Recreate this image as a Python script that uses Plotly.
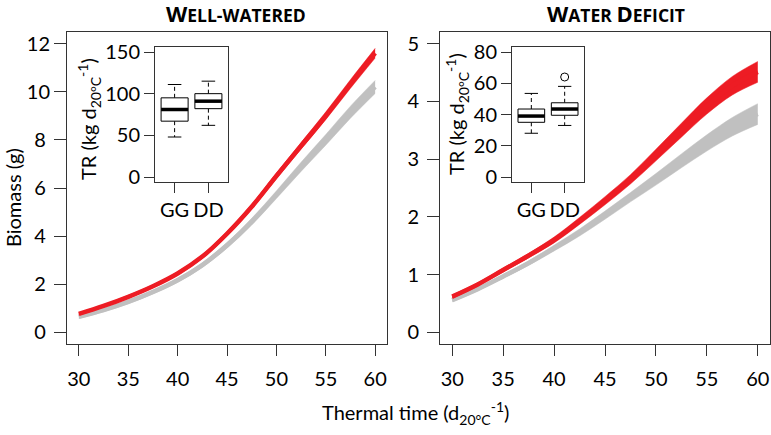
import plotly.graph_objects as go

# ---------------- data ----------------
thermal_time = [30, 32.5, 35, 37.5, 40, 42.5, 45, 47.5, 50, 52.5, 55, 57.5, 60]

# Well-watered biomass (g): centre of band and half-width of band
ww_red = [0.77, 1.10, 1.48, 1.92, 2.45, 3.15, 4.10, 5.22, 6.50, 7.75, 9.00, 10.32, 11.60]
ww_red_hw = [0.05, 0.05, 0.06, 0.06, 0.07, 0.08, 0.09, 0.10, 0.12, 0.14, 0.16, 0.18, 0.20]
ww_grey = [0.65, 0.93, 1.27, 1.68, 2.17, 2.80, 3.62, 4.60, 5.72, 6.88, 8.00, 9.15, 10.20]
ww_grey_hw = [0.07, 0.07, 0.08, 0.08, 0.09, 0.10, 0.12, 0.14, 0.16, 0.19, 0.22, 0.25, 0.27]

# Water deficit biomass (g)
wd_red = [0.62, 0.83, 1.08, 1.33, 1.60, 1.93, 2.28, 2.65, 3.07, 3.50, 3.92, 4.27, 4.51]
wd_red_hw = [0.03, 0.03, 0.035, 0.04, 0.05, 0.06, 0.07, 0.08, 0.10, 0.12, 0.14, 0.16, 0.18]
wd_grey = [0.56, 0.75, 0.97, 1.20, 1.46, 1.73, 2.03, 2.34, 2.65, 2.97, 3.28, 3.56, 3.78]
wd_grey_hw = [0.03, 0.03, 0.035, 0.04, 0.05, 0.06, 0.07, 0.08, 0.10, 0.12, 0.14, 0.16, 0.18]

# Inset boxplots: TR (kg d20°C-1)
genotypes = ["GG", "DD"]
ww_tr_low = [48, 62]
ww_tr_q1 = [67, 82]
ww_tr_med = [81, 91]
ww_tr_q3 = [95, 100]
ww_tr_high = [111, 115]

wd_tr_low = [28, 33]
wd_tr_q1 = [35, 39.5]
wd_tr_med = [39, 43.5]
wd_tr_q3 = [43.5, 47.5]
wd_tr_high = [53.5, 58]
wd_tr_outlier_x = ["DD"]
wd_tr_outlier = [64]

x_ticks = [30, 35, 40, 45, 50, 55, 60]
ww_y_ticks = [0, 2, 4, 6, 8, 10, 12]
wd_y_ticks = [0, 1, 2, 3, 4, 5]
ww_inset_ticks = [0, 50, 100, 150]
wd_inset_ticks = [0, 20, 40, 60, 80]

RED = "#ED1C24"
GREY = "#C0C0C0"
FONT = "Lato"
TITLE_FONT = "Open Sans"

fig = go.Figure()


def add_band(x, centre, hw, color, xa, ya):
    upper = [c + h for c, h in zip(centre, hw)]
    lower = [c - h for c, h in zip(centre, hw)]
    fig.add_trace(go.Scatter(x=x, y=upper, mode="lines", line=dict(color=color, width=0.5, shape="spline"),
                             xaxis=xa, yaxis=ya, showlegend=False, hoverinfo="skip"))
    fig.add_trace(go.Scatter(x=x, y=lower, mode="lines", line=dict(color=color, width=0.5, shape="spline"),
                             fill="tonexty", fillcolor=color,
                             xaxis=xa, yaxis=ya, showlegend=False, hoverinfo="skip"))
    fig.add_trace(go.Scatter(x=x, y=centre, mode="lines", line=dict(color=color, width=4.5, shape="spline"),
                             xaxis=xa, yaxis=ya, showlegend=False, hoverinfo="skip"))


add_band(thermal_time, ww_grey, ww_grey_hw, GREY, "x", "y")
add_band(thermal_time, ww_red, ww_red_hw, RED, "x", "y")
add_band(thermal_time, wd_grey, wd_grey_hw, GREY, "x2", "y2")
add_band(thermal_time, wd_red, wd_red_hw, RED, "x2", "y2")


def add_boxes(low, q1, med, q3, high, xa, ya):
    for i in range(len(genotypes)):
        c = i + 1
        bw, cw = 0.4, 0.2
        # whiskers (dashed)
        fig.add_trace(go.Scatter(x=[c, c], y=[q3[i], high[i]], mode="lines",
                                 line=dict(color="black", width=1, dash="4px,3px"),
                                 xaxis=xa, yaxis=ya, showlegend=False, hoverinfo="skip"))
        fig.add_trace(go.Scatter(x=[c, c], y=[q1[i], low[i]], mode="lines",
                                 line=dict(color="black", width=1, dash="4px,3px"),
                                 xaxis=xa, yaxis=ya, showlegend=False, hoverinfo="skip"))
        # staples
        for v in (low[i], high[i]):
            fig.add_trace(go.Scatter(x=[c - cw, c + cw], y=[v, v], mode="lines",
                                     line=dict(color="black", width=1),
                                     xaxis=xa, yaxis=ya, showlegend=False, hoverinfo="skip"))
        # box
        fig.add_trace(go.Scatter(x=[c - bw, c + bw, c + bw, c - bw, c - bw],
                                 y=[q1[i], q1[i], q3[i], q3[i], q1[i]], mode="lines",
                                 fill="toself", fillcolor="white",
                                 line=dict(color="black", width=1),
                                 xaxis=xa, yaxis=ya, showlegend=False, hoverinfo="skip"))
        # median
        fig.add_trace(go.Scatter(x=[c - bw, c + bw], y=[med[i], med[i]], mode="lines",
                                 line=dict(color="black", width=3.5),
                                 xaxis=xa, yaxis=ya, showlegend=False, hoverinfo="skip"))


add_boxes(ww_tr_low, ww_tr_q1, ww_tr_med, ww_tr_q3, ww_tr_high, "x3", "y3")
add_boxes(wd_tr_low, wd_tr_q1, wd_tr_med, wd_tr_q3, wd_tr_high, "x4", "y4")
fig.add_trace(go.Scatter(x=[genotypes.index(g) + 1 for g in wd_tr_outlier_x], y=wd_tr_outlier,
                         mode="markers",
                         marker=dict(symbol="circle-open", size=8, color="black", line=dict(width=1)),
                         xaxis="x4", yaxis="y4", showlegend=False, hoverinfo="skip"))

W, H = 771, 435


def px_x(a, b):
    return [a / W, b / W]


def px_y(top, bottom):
    return [(H - bottom) / H, (H - top) / H]


axis_common = dict(showline=True, mirror=True, linecolor="#333333", linewidth=1,
                   showgrid=False, zeroline=False, ticks="outside", tickcolor="#333333",
                   tickfont=dict(family=FONT, size=20, color="black"), automargin=False)


def ytext(vals):
    return [str(v) if len(str(v)) > 1 else str(v) + "\u2008" for v in vals]


layout = dict(
    width=W, height=H, margin=dict(l=0, r=0, t=0, b=0),
    paper_bgcolor="white", plot_bgcolor="white",
    font=dict(family=FONT, size=20, color="black"),
    xaxis=dict(domain=px_x(67, 387), range=[28.8, 61.2], tickvals=x_ticks, ticklen=11,
               ticklabelstandoff=6, **axis_common),
    yaxis=dict(domain=px_y(32, 344), range=[-0.48, 12.48], tickvals=ww_y_ticks,
               ticktext=ytext(ww_y_ticks), ticklen=12, ticklabelstandoff=0, **axis_common),
    xaxis2=dict(domain=px_x(440, 770), range=[28.8, 61.2], tickvals=x_ticks, ticklen=11,
                ticklabelstandoff=6, anchor="y2", **axis_common),
    yaxis2=dict(domain=px_y(32, 344), range=[-0.2, 5.2], tickvals=wd_y_ticks, ticklen=12,
                ticklabelstandoff=4, anchor="x2", **axis_common),
    xaxis3=dict(domain=px_x(155, 228), range=[0.42, 2.58], tickvals=[1, 2], ticktext=genotypes,
                ticklen=10, anchor="y3", **axis_common),
    yaxis3=dict(domain=px_y(47, 182), range=[-6, 156], tickvals=ww_inset_ticks, ticklen=10,
                ticklabelstandoff=0, anchor="x3", **axis_common),
    xaxis4=dict(domain=px_x(512, 584), range=[0.42, 2.58], tickvals=[1, 2], ticktext=genotypes,
                ticklen=10, anchor="y4", **axis_common),
    yaxis4=dict(domain=px_y(47, 182), range=[-3.2, 83.2], tickvals=wd_inset_ticks, ticklen=10,
                ticklabelstandoff=0, anchor="x4", **axis_common),
)
fig.update_layout(**layout)

ann = dict(xref="paper", yref="paper", showarrow=False, xanchor="center", yanchor="middle")
BIG = "<span style='font-size:22px'>{}</span>"
fig.add_annotation(text="<b>" + BIG.format("W") + "ELL-WATERED</b>", x=236 / W, y=(H - 13) / H,
                   font=dict(family=TITLE_FONT, size=17.5, color="black"), **ann)
fig.add_annotation(text="<b>" + BIG.format("W") + "ATER " + BIG.format("D") + "EFICIT</b>", x=616 / W,
                   y=(H - 13) / H, font=dict(family=TITLE_FONT, size=17.5, color="black"), **ann)
fig.add_annotation(text="Biomass (g)", x=13 / W, y=(H - 198) / H, textangle=-90,
                   font=dict(family=FONT, size=20, color="black"), **ann)
fig.add_annotation(text="Thermal time (d<sub>20°C</sub><sup>-1</sup>)", x=415 / W, y=(H - 413) / H,
                   font=dict(family=FONT, size=20, color="black"), **ann)
fig.add_annotation(text="TR (kg d<sub>20°C</sub><sup>-1</sup>)", x=89 / W, y=(H - 119) / H, textangle=-90,
                   font=dict(family=FONT, size=20, color="black"), **ann)
fig.add_annotation(text="TR (kg d<sub>20°C</sub><sup>-1</sup>)", x=457 / W, y=(H - 114) / H, textangle=-90,
                   font=dict(family=FONT, size=20, color="black"), **ann)

fig.write_html("out.html", config={"displayModeBar": False},
               post_script="document.body.style.margin='0';document.body.style.overflow='hidden';")
